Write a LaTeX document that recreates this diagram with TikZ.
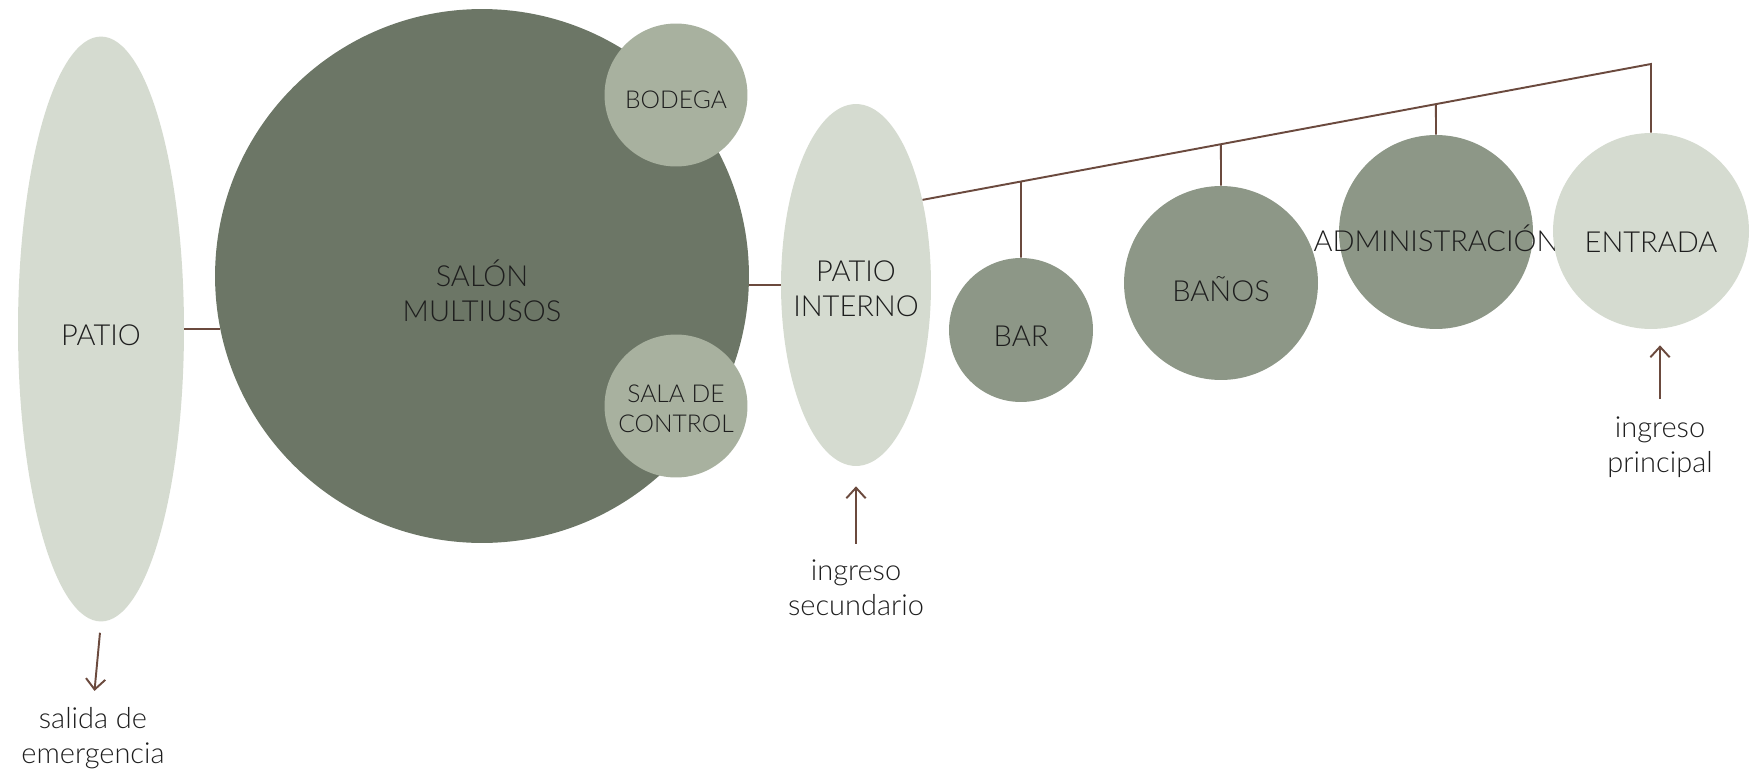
\documentclass[tikz,border=0pt]{standalone}
\usepackage{fontspec}
\IfFontExistsTF{Lato Light}{\setmainfont{Lato Light}}{\setmainfont{Lato}}
\usetikzlibrary{arrows.meta, shapes.geometric, calc}
\definecolor{lightsage}{HTML}{D5DBD0}
\definecolor{darksage}{HTML}{6C7666}
\definecolor{midsage}{HTML}{8D9787}
\definecolor{palesage}{HTML}{A8B19F}
\definecolor{cbrown}{HTML}{6B4A3E}
\definecolor{ctext}{HTML}{1E1E1E}

\begin{document}
\begin{tikzpicture}[x=0.02cm, y=-0.02cm,
  zona/.style={circle, inner sep=0pt},
  ovalo/.style={ellipse, inner sep=0pt, fill=lightsage},
  lbl/.style={inner sep=0pt, text=ctext, align=center, font=\fontsize{16.5}{20}\selectfont},
  small/.style={font=\fontsize{14}{17}\selectfont},
  txt/.style={label={[lbl, yshift=-3.5pt]center:#1}},
  con/.style={cbrown, line width=1.1pt},
  arr/.style={con, -{Straight Barb[length=6pt, width=11pt]}}
]
  \useasboundingbox (0,0) rectangle (1757,774);

  \node[ovalo, minimum width=3.32cm, minimum height=11.7cm, txt=PATIO] (patio) at (101,329) {};
  \node[zona, fill=darksage, minimum size=10.68cm, label={[lbl, yshift=-8.5pt]center:SALÓN\\MULTIUSOS}] (salon) at (482,276) {};
  \node[zona, fill=palesage, minimum size=2.86cm, label={[lbl, small, yshift=-2.5pt]center:BODEGA}] (bodega) at (676,95) {};
  \node[zona, fill=palesage, minimum size=2.86cm, label={[lbl, small, yshift=-1.5pt]center:SALA DE\\CONTROL}] (control) at (676,406) {};
  \node[ovalo, minimum width=3cm, minimum height=7.24cm, label={[lbl, yshift=-2pt]center:PATIO\\INTERNO}] (interno) at (856,285) {};

  \node[zona, fill=midsage, minimum size=2.88cm, txt=BAR] (bar) at (1021,330) {};
  \node[zona, fill=midsage, minimum size=3.88cm, txt=BAÑOS] (banos) at (1221,283) {};
  \node[zona, fill=midsage, minimum size=3.88cm, txt=ADMINISTRACIÓN] (admin) at (1436,232) {};
  \node[zona, fill=lightsage, minimum size=3.92cm, label={[lbl, yshift=-6.5pt]center:ENTRADA}] (entrada) at (1651,231) {};

  \node[lbl] (salida) at (93,738) {salida de\\emergencia};
  \node[lbl] (secundario) at (856,588) {ingreso\\secundario};
  \node[lbl] (principal) at (1660,447) {ingreso\\principal};

  \draw[con] (patio.east) -- (patio.east -| salon.191.5);
  \draw[con] (interno.west) -- (interno.west -| salon.east);

  \coordinate (top) at (1651,64);
  \draw[con] (interno.52) -- (top) -- (entrada.north);
  \draw[con] (bar.north) -- (intersection of interno.52--top and bar.north--bar.center);
  \draw[con] (banos.north) -- (intersection of interno.52--top and banos.north--banos.center);
  \draw[con] (admin.north) -- (intersection of interno.52--top and admin.north--admin.center);

  \draw[arr, shorten <=0.22cm, shorten >=0.32cm] (patio.south) -- (salida.north);
  \draw[arr, shorten <=0.32cm, shorten >=0.4cm] (secundario.north) -- (interno.south);
  \draw[arr, shorten <=0.34cm, shorten >=0.32cm] (principal.north) -- (principal.north |- entrada.south);
\end{tikzpicture}
\end{document}
